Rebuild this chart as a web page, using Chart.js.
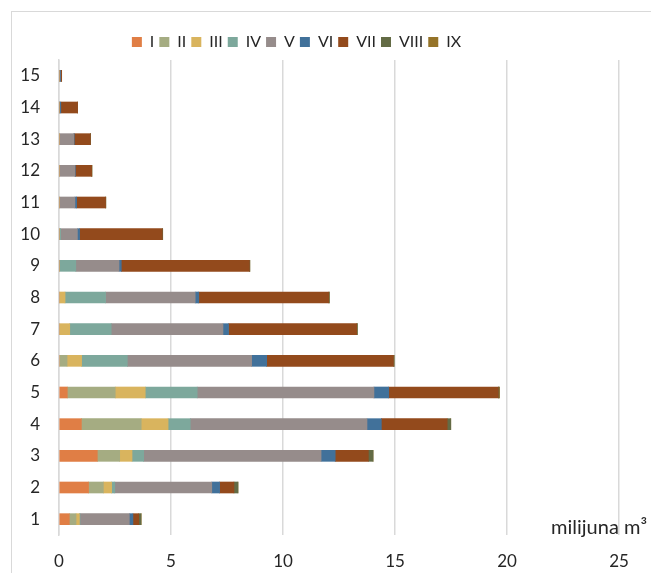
<!DOCTYPE html>
<html lang="hr">
<head>
<meta charset="UTF-8">
<title>milijuna m3</title>
<script src="https://cdn.jsdelivr.net/npm/chart.js@4.4.1/dist/chart.umd.min.js"></script>
<style>
    * { margin: 0; padding: 0; box-sizing: border-box; }
    body { width: 651px; height: 573px; background: #fff; overflow: hidden; position: relative; font-family: Lato, "Open Sans", sans-serif; }
    .frame { position: absolute; left: 11px; top: 11px; width: 700px; height: 600px; border: 1px solid #d9d9d9; }
    .wrap { position: absolute; left: 0; top: 0; width: 651px; height: 573px; }
    .unit { position: absolute; left: 551px; top: 514px; font-size: 20px; color: #262626; white-space: nowrap; }
</style>
</head>
<body>
<div class="frame"></div>
<div class="wrap"><canvas id="chart"></canvas></div>
<div class="unit">milijuna m³</div>
<script>
    // categories, bottom to top
    const categories = ['1', '2', '3', '4', '5', '6', '7', '8', '9', '10', '11', '12', '13', '14', '15'];
    const seriesNames = ['I', 'II', 'III', 'IV', 'V', 'VI', 'VII', 'VIII', 'IX'];
    const xTicks = [0, 5, 10, 15, 20, 25];

    const sI    = [0.46, 1.32, 1.71, 1.00, 0.37, 0, 0, 0, 0, 0, 0, 0, 0, 0, 0];
    const sII   = [0.30, 0.66, 1.00, 2.67, 2.14, 0.36, 0, 0, 0, 0, 0, 0, 0, 0, 0];
    const sIII  = [0.15, 0.37, 0.55, 1.20, 1.34, 0.65, 0.48, 0.27, 0, 0, 0, 0, 0, 0, 0];
    const sIV   = [0.03, 0.14, 0.52, 0.99, 2.32, 2.04, 1.85, 1.81, 0.75, 0.07, 0, 0, 0, 0, 0];
    const sV    = [2.20, 4.33, 7.92, 7.89, 7.89, 5.55, 4.99, 4.00, 1.93, 0.75, 0.71, 0.71, 0.66, 0.03, 0.04];
    const sVI   = [0.16, 0.35, 0.63, 0.64, 0.66, 0.67, 0.25, 0.16, 0.10, 0.10, 0.08, 0.02, 0.02, 0.05, 0.03];
    const sVII  = [0.26, 0.64, 1.48, 2.94, 4.89, 5.66, 5.72, 5.80, 5.72, 3.69, 1.29, 0.73, 0.72, 0.75, 0.05];
    const sVIII = [0.10, 0.18, 0.21, 0.16, 0.03, 0.03, 0.03, 0.03, 0.02, 0.02, 0.01, 0.01, 0.01, 0, 0];
    const sIX   = [0.01, 0, 0, 0, 0.03, 0, 0, 0, 0, 0, 0, 0, 0, 0, 0];

    const seriesValues = [sI, sII, sIII, sIV, sV, sVI, sVII, sVIII, sIX];
    const colors = ['#E07E45', '#A5AC82', '#D9B45E', '#7DA89C', '#968C8B', '#41719A', '#934A1C', '#636B45', '#957328'];

    const datasets = seriesNames.map((name, i) => ({
        label: name,
        data: seriesValues[i],
        backgroundColor: colors[i],
        borderWidth: 0,
        barThickness: 11
    }));

    const tickFont = { family: 'Lato, "Open Sans", sans-serif', size: 17 };
    const legendFont = { family: 'Lato, "Open Sans", sans-serif', size: 16 };

    // legend sits a bit left of centre
    const legendShift = {
        id: 'legendShift',
        afterLayout(chart) {
            chart.legend.left -= 13;
            chart.legend.right -= 13;
        }
    };

    new Chart(document.getElementById('chart'), {
        type: 'bar',
        data: { labels: categories, datasets: datasets },
        plugins: [legendShift],
        options: {
            indexAxis: 'y',
            responsive: true,
            maintainAspectRatio: false,
            animation: false,
            layout: { padding: { left: 0, right: 32, top: 29, bottom: 0 } },
            plugins: {
                legend: {
                    position: 'top',
                    labels: {
                        boxWidth: 10,
                        boxHeight: 10,
                        padding: 5,
                        color: '#262626',
                        font: legendFont
                    }
                },
                tooltip: { enabled: false }
            },
            scales: {
                x: {
                    stacked: true,
                    min: 0,
                    max: 25,
                    afterBuildTicks: s => { s.ticks = xTicks.map(v => ({ value: v })); },
                    afterFit: s => { s.height = 38; },
                    grid: { color: '#d9d9d9', lineWidth: 1.5, drawTicks: false },
                    border: { display: false },
                    ticks: { color: '#262626', font: tickFont, padding: 16 }
                },
                y: {
                    stacked: true,
                    reverse: true,
                    afterFit: s => { s.width = 59; },
                    grid: { display: false, drawTicks: false },
                    border: { display: true, color: '#d9d9d9', width: 1.5 },
                    ticks: { color: '#262626', font: tickFont, padding: 19 }
                }
            }
        }
    });
</script>
</body>
</html>
